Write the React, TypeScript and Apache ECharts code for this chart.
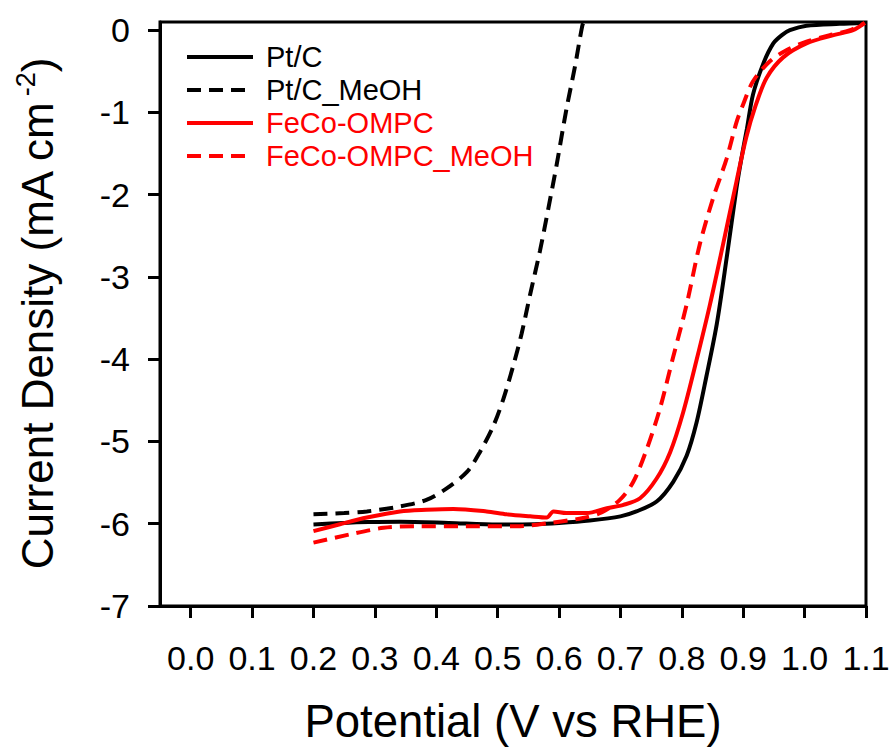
import React, { useEffect, useRef } from "react";
import * as echarts from "echarts";

const FONT = "'Liberation Sans', Arial, sans-serif";

const seriesNames = ["Pt/C", "Pt/C_MeOH", "FeCo-OMPC", "FeCo-OMPC_MeOH"];
const seriesColors = ["#000000", "#000000", "#ff0000", "#ff0000"];
const seriesDashed = [false, true, false, true];

const xTicks = [0.0, 0.1, 0.2, 0.3, 0.4, 0.5, 0.6, 0.7, 0.8, 0.9, 1.0, 1.1];
const yTicks = [-7, -6, -5, -4, -3, -2, -1, 0];

// Potential (V vs RHE), current density (mA cm-2)
const ptC: [number, number][] = [
  [0.2, -6.01], [0.25, -5.99], [0.29, -5.98], [0.34, -5.975], [0.42, -5.99],
  [0.5, -6.01], [0.56, -6.005], [0.6, -5.99], [0.65, -5.96], [0.7, -5.91],
  [0.726, -5.85], [0.759, -5.73], [0.786, -5.49], [0.808, -5.17], [0.824, -4.77],
  [0.84, -4.21], [0.857, -3.57], [0.873, -2.77], [0.889, -1.92], [0.897, -1.56],
  [0.906, -1.2], [0.916, -0.78], [0.933, -0.4], [0.949, -0.16], [0.963, -0.06],
  [0.976, 0.0], [1.003, 0.055], [1.057, 0.078], [1.098, 0.088],
];

const ptCMeOH: [number, number][] = [
  [0.2, -5.885], [0.25, -5.87], [0.287, -5.85], [0.341, -5.79], [0.384, -5.71],
  [0.417, -5.57], [0.45, -5.37], [0.471, -5.13], [0.493, -4.81], [0.509, -4.49],
  [0.525, -4.09], [0.539, -3.69], [0.553, -3.21], [0.569, -2.68], [0.583, -2.15],
  [0.596, -1.64], [0.612, -0.96], [0.626, -0.44], [0.638, 0.06], [0.641, 0.1],
];

const fecoOMPC: [number, number][] = [
  [0.2, -6.09], [0.243, -6.006], [0.287, -5.925], [0.341, -5.85], [0.384, -5.83],
  [0.428, -5.82], [0.482, -5.85], [0.515, -5.885], [0.553, -5.91], [0.58, -5.925],
  [0.591, -5.85], [0.612, -5.87], [0.645, -5.87], [0.678, -5.81], [0.705, -5.77],
  [0.732, -5.69], [0.759, -5.45], [0.781, -5.13], [0.802, -4.65], [0.824, -4.01],
  [0.846, -3.33], [0.867, -2.61], [0.889, -1.84], [0.905, -1.3], [0.92, -0.92],
  [0.938, -0.58], [0.965, -0.33], [1.003, -0.16], [1.047, -0.06], [1.079, 0.0],
  [1.098, 0.088],
];

const fecoOMPCMeOH: [number, number][] = [
  [0.2, -6.23], [0.259, -6.13], [0.314, -6.05], [0.368, -6.03], [0.449, -6.03],
  [0.531, -6.03], [0.585, -5.99], [0.639, -5.93], [0.67, -5.86], [0.699, -5.71],
  [0.721, -5.49], [0.743, -5.09], [0.764, -4.61], [0.786, -3.97], [0.808, -3.33],
  [0.829, -2.61], [0.851, -2.04], [0.873, -1.56], [0.889, -1.12], [0.9, -0.9],
  [0.916, -0.62], [0.943, -0.38], [0.971, -0.24], [1.003, -0.14], [1.041, -0.06],
  [1.074, 0.0], [1.098, 0.088],
];

const seriesData = [ptC, ptCMeOH, fecoOMPC, fecoOMPCMeOH];

export default function App() {
  const ref = useRef<HTMLDivElement>(null);

  useEffect(() => {
    if (!ref.current) return;
    const chart = echarts.init(ref.current, undefined, { renderer: "svg" });

    const axisLineStyle = { color: "#000", width: 3 };

    chart.setOption({
      animation: false,
      backgroundColor: "#ffffff",
      grid: {
        left: 160,
        right: 28,
        top: 22,
        bottom: 137,
        show: true,
        borderColor: "#000",
        borderWidth: 3,
        backgroundColor: "transparent",
      },
      legend: {
        orient: "vertical",
        left: 180,
        top: 37,
        itemWidth: 66,
        itemHeight: 30,
        itemGap: 3,
        itemStyle: { opacity: 0 },
        lineStyle: { width: 4 },
        textStyle: {
          fontSize: 29,
          fontFamily: FONT,
          lineHeight: 30,
          padding: [0, 0, 0, 8],
        },
        data: seriesNames.map((n, i) => ({
          name: n,
          textStyle: { color: seriesColors[i] },
        })),
      },
      xAxis: {
        type: "value",
        min: -0.05,
        max: 1.1,
        axisLine: { show: true, onZero: false, lineStyle: axisLineStyle },
        axisTick: {
          show: true,
          inside: false,
          length: 12,
          lineStyle: axisLineStyle,
          customValues: xTicks,
        },
        axisLabel: {
          customValues: xTicks,
          formatter: (v: number) => v.toFixed(1),
          fontSize: 34,
          color: "#000",
          fontFamily: FONT,
          margin: 35,
        },
        splitLine: { show: false },
        name: "Potential (V vs RHE)",
        nameLocation: "middle",
        nameGap: 92,
        nameTextStyle: { fontSize: 45.5, color: "#000", fontFamily: FONT },
      },
      yAxis: {
        type: "value",
        min: -7,
        max: 0.1,
        axisLine: { show: true, onZero: false, lineStyle: axisLineStyle },
        axisTick: {
          show: true,
          inside: false,
          length: 12,
          lineStyle: axisLineStyle,
          customValues: yTicks,
        },
        axisLabel: {
          customValues: yTicks,
          formatter: (v: number) => String(v),
          fontSize: 34,
          color: "#000",
          fontFamily: FONT,
          margin: 30,
        },
        splitLine: { show: false },
        name: "{n|Current Density (mA cm}{sup|-2}{n|)}",
        nameLocation: "middle",
        nameGap: 98,
        nameTextStyle: {
          color: "#000",
          fontFamily: FONT,
          fontSize: 44,
          rich: {
            n: { fontSize: 44, fontFamily: FONT, color: "#000", lineHeight: 50 },
            sup: {
              fontSize: 27,
              fontFamily: FONT,
              color: "#000",
              lineHeight: 30,
              verticalAlign: "top",
              padding: [0, 0, 0, 5],
            },
          },
        },
      },
      series: seriesData.map((d, i) => ({
        name: seriesNames[i],
        type: "line",
        data: d,
        showSymbol: false,
        symbol: "none",
        smooth: 0.3,
        clip: true,
        color: seriesColors[i],
        lineStyle: {
          color: seriesColors[i],
          width: 4,
          type: seriesDashed[i] ? [14, 8] : "solid",
        },
      })),
    });

    return () => chart.dispose();
  }, []);

  return (
    <div
      ref={ref}
      style={{ position: "fixed", left: 0, top: 0, width: 894, height: 749, background: "#fff" }}
    />
  );
}
